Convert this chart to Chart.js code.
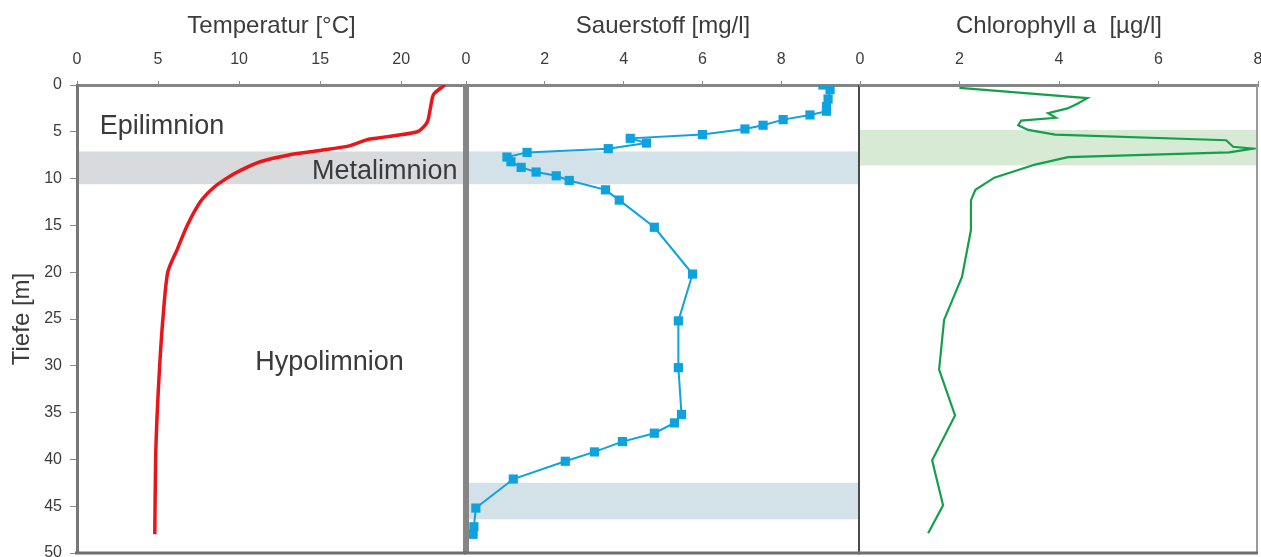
<!DOCTYPE html>
<html>
<head>
<meta charset="utf-8">
<script src="https://cdn.jsdelivr.net/npm/chart.js@4.4.1/dist/chart.umd.min.js"></script>
<style>
  body { margin: 0; background: #fff; }
  #wrap { position: relative; width: 1261px; height: 557px; }
  #wrap canvas { position: absolute; left: 0; top: 0; }
</style>
</head>
<body>
<div id="wrap">
  <canvas id="tempChart" width="1261" height="557"></canvas>
  <canvas id="oxyChart" width="1261" height="557"></canvas>
  <canvas id="chlChart" width="1261" height="557"></canvas>
</div>
<script>
// depth profiles (depth in m)
const tempDepth = [0, 1, 2.5, 4, 5, 5.8, 6.5, 7, 7.5, 8.2, 9.2, 10, 11, 12.5, 15, 17.5, 20, 25, 30, 35, 40, 48]
const tempValues = [22.7, 22.0, 21.8, 21.6, 21.0, 18.0, 16.8, 15.0, 13.0, 11.3, 10.0, 9.2, 8.4, 7.6, 6.8, 6.2, 5.6, 5.3, 5.1, 4.95, 4.85, 4.8]

const oxyDepth = [0, 0.5, 1.5, 2.3, 2.8, 3.2, 3.7, 4.3, 4.7, 5.3, 5.7, 6.2, 6.8, 7.2, 7.7, 8.2, 8.8, 9.3, 9.7, 10.2, 11.2, 12.3, 15.2, 20.2, 25.2, 30.2, 35.2, 36.1, 37.2, 38.1, 39.2, 40.2, 42.1, 45.2, 47.2, 48]
const oxyValues = [9.06, 9.24, 9.19, 9.15, 9.15, 8.73, 8.05, 7.54, 7.08, 6.0, 4.17, 4.58, 3.61, 1.55, 1.04, 1.14, 1.4, 1.78, 2.29, 2.62, 3.54, 3.89, 4.78, 5.75, 5.39, 5.39, 5.47, 5.29, 4.78, 3.97, 3.26, 2.52, 1.2, 0.25, 0.2, 0.18]

const chlDepth = [0.3, 1.4, 2.0, 2.5, 3.0, 3.5, 3.8, 4.3, 4.8, 5.3, 5.9, 6.6, 6.8, 7.2, 7.7, 8.5, 9.9, 11.2, 12.3, 15.5, 20.5, 25.1, 30.4, 35.3, 40.1, 44.9, 47.9]
const chlValues = [2.0, 4.57, 4.37, 4.17, 3.78, 3.94, 3.24, 3.18, 3.38, 3.92, 7.36, 7.5, 7.9, 7.42, 4.18, 3.52, 2.7, 2.32, 2.23, 2.23, 2.05, 1.69, 1.59, 1.91, 1.45, 1.67, 1.37]

// layer bands [from, to] in m
const metaBand = [7.1, 10.6]
const deepOxyBand = [42.5, 46.4]
const chlMaxBand = [4.8, 8.6]

// layer names: [text, temperature, depth]
const layerNames = [
  ['Epilimnion', 1.4, 4.4],
  ['Metalimnion', 14.5, 9.2],
  ['Hypolimnion', 11.0, 29.6]
]

Chart.defaults.font.family = '"Liberation Sans", Arial, sans-serif'
Chart.defaults.color = '#3c3c3c'

const toPoints = (vals, depths) => vals.map((v, i) => ({x: v, y: depths[i]}))

// draws the shaded layers, the layer names and the frame edges
const layerPlugin = {
  id: 'layers',
  beforeDraw(chart, args, opts) {
    const {ctx, chartArea: a, scales: {y}} = chart
    ctx.save()
    ;(opts.bands || []).forEach(b => {
      const top = y.getPixelForValue(b.range[0])
      const bottom = y.getPixelForValue(b.range[1])
      ctx.fillStyle = b.color
      ctx.fillRect(a.left, top, a.right - a.left, bottom - top)
    })
    ctx.restore()
  },
  afterDraw(chart, args, opts) {
    const {ctx, chartArea: a, scales: {x, y}} = chart
    ctx.save()
    ctx.font = '27px "Liberation Sans", Arial, sans-serif'
    ctx.fillStyle = '#3a3a3a'
    ctx.textAlign = 'left'
    ctx.textBaseline = 'middle'
    ;(opts.labels || []).forEach(l => {
      ctx.fillText(l[0], x.getPixelForValue(l[1]), y.getPixelForValue(l[2]))
    })
    const f = opts.frame || {}
    ctx.lineCap = 'butt'
    if (f.left) {
      ctx.strokeStyle = f.left.color; ctx.lineWidth = f.left.width
      ctx.beginPath(); ctx.moveTo(a.left + f.left.width / 2, a.top); ctx.lineTo(a.left + f.left.width / 2, a.bottom); ctx.stroke()
    }
    if (f.right) {
      ctx.strokeStyle = f.right.color; ctx.lineWidth = f.right.width
      ctx.beginPath(); ctx.moveTo(a.right - f.right.width / 2, a.top); ctx.lineTo(a.right - f.right.width / 2, a.bottom); ctx.stroke()
    }
    if (f.bottom) {
      ctx.strokeStyle = f.bottom.color; ctx.lineWidth = f.bottom.width
      ctx.beginPath(); ctx.moveTo(a.left - 2, a.bottom); ctx.lineTo(a.right, a.bottom); ctx.stroke()
    }
    ctx.restore()
  }
}

function topAxis(title, max, step, hideMax) {
  return {
    type: 'linear',
    position: 'top',
    min: 0,
    max: max,
    afterFit: s => { s.height = 85; s.paddingLeft = 0; s.paddingRight = 0 },
    border: {display: true, color: '#858585', width: 3},
    grid: {display: true, drawOnChartArea: false, drawTicks: true, tickLength: 4, color: '#8a8a8a'},
    ticks: {
      stepSize: step,
      includeBounds: false,
      padding: 12,
      maxRotation: 0,
      font: {size: 16},
      callback: v => (hideMax && v === max) ? '' : v
    },
    title: {display: true, text: title, font: {size: 24}, padding: {top: 12, bottom: 0}}
  }
}

const depthAxis = {
  type: 'linear',
  reverse: true,
  min: 0,
  max: 50,
  afterFit: s => { s.width = 77; s.paddingTop = 0; s.paddingBottom = 0 },
  border: {display: true, color: '#777', width: 3},
  grid: {display: true, drawOnChartArea: false, drawTicks: true, tickLength: 7, color: '#8a8a8a'},
  ticks: {stepSize: 5, padding: 8, font: {size: 16}},
  title: {display: true, text: 'Tiefe [m]', font: {size: 24}, padding: {top: 8, bottom: 0}}
}

const hiddenDepth = {type: 'linear', reverse: true, min: 0, max: 50, display: false}

const common = {
  responsive: false,
  animation: false,
  events: [],
  plugins: {legend: {display: false}, tooltip: {enabled: false}}
}

new Chart(document.getElementById('tempChart'), {
  type: 'scatter',
  data: {
    datasets: [{
      data: toPoints(tempValues, tempDepth),
      showLine: true,
      borderColor: '#e8161b',
      borderWidth: 3.5,
      tension: 0.25,
      pointRadius: 0
    }]
  },
  options: {
    ...common,
    layout: {autoPadding: false, padding: {left: 0, top: 0, right: 795, bottom: 4}},
    scales: {x: topAxis('Temperatur [°C]', 24, 5, false), y: depthAxis},
    plugins: {
      ...common.plugins,
      layers: {
        bands: [{range: metaBand, color: '#d9dadb'}],
        labels: layerNames,
        frame: {right: {color: '#858585', width: 3}, bottom: {color: '#6f6f6f', width: 3}}
      }
    }
  },
  plugins: [layerPlugin]
})

new Chart(document.getElementById('oxyChart'), {
  type: 'scatter',
  data: {
    datasets: [{
      data: toPoints(oxyValues, oxyDepth),
      showLine: true,
      borderColor: '#0ea2df',
      backgroundColor: '#0ea2df',
      borderWidth: 2,
      pointStyle: 'rect',
      pointRadius: 6.5,
      pointBorderWidth: 0
    }]
  },
  options: {
    ...common,
    layout: {autoPadding: false, padding: {left: 466, top: 0, right: 401, bottom: 4}},
    scales: {x: topAxis('Sauerstoff [mg/l]', 10, 2, true), y: hiddenDepth},
    plugins: {
      ...common.plugins,
      layers: {
        bands: [{range: metaBand, color: '#d3e1e8'}, {range: deepOxyBand, color: '#d3e1e8'}],
        frame: {left: {color: '#858585', width: 3}, right: {color: '#4a4a4a', width: 2}, bottom: {color: '#6f6f6f', width: 3}}
      }
    }
  },
  plugins: [layerPlugin]
})

new Chart(document.getElementById('chlChart'), {
  type: 'scatter',
  data: {
    datasets: [{
      data: toPoints(chlValues, chlDepth),
      showLine: true,
      borderColor: '#14a04b',
      borderWidth: 2.2,
      pointRadius: 0
    }]
  },
  options: {
    ...common,
    layout: {autoPadding: false, padding: {left: 860, top: 0, right: 3, bottom: 4}},
    scales: {x: topAxis('Chlorophyll a  [µg/l]', 8, 2, false), y: hiddenDepth},
    plugins: {
      ...common.plugins,
      layers: {
        bands: [{range: chlMaxBand, color: '#d7ebd4'}],
        frame: {right: {color: '#9a9a9a', width: 2}, bottom: {color: '#6f6f6f', width: 3}}
      }
    }
  },
  plugins: [layerPlugin]
})
</script>
</body>
</html>
